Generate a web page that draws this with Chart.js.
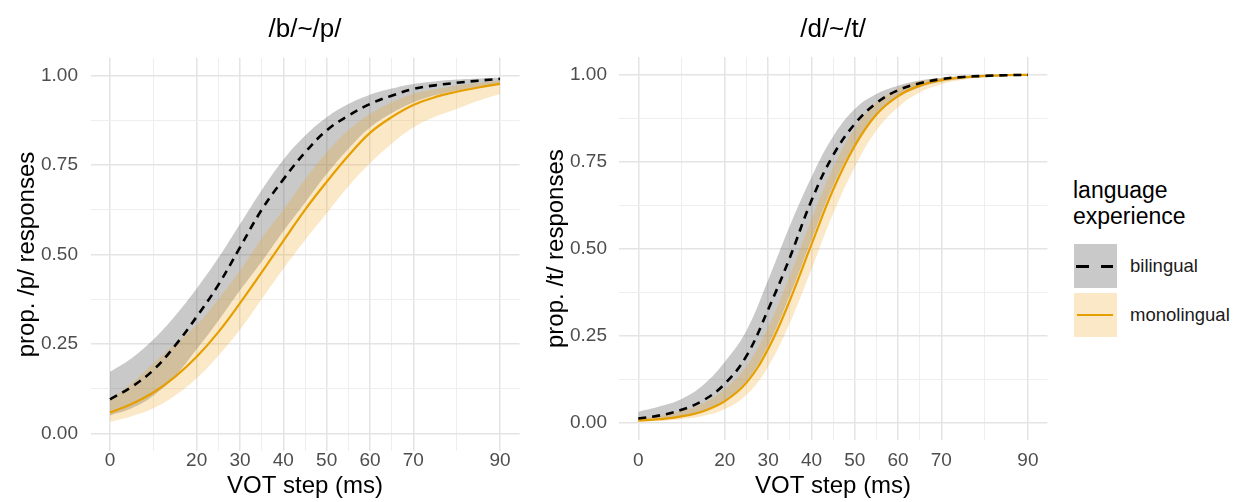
<!DOCTYPE html>
<html><head><meta charset="utf-8">
<script src="https://cdn.jsdelivr.net/npm/chart.js@4.4.1/dist/chart.umd.min.js"></script>
<style>
html,body{margin:0;padding:0;background:#fff;}
#wrap{position:relative;width:1238px;height:502px;overflow:hidden;font-family:"Liberation Sans",Arial,sans-serif;}
canvas{position:absolute;top:0;}
#c1{left:0;}
#c2{left:530px;}
.abs{position:absolute;}
.legTitle{left:1073px;top:177px;font-size:23px;line-height:26px;color:#000;white-space:nowrap;}
.key{width:43px;height:44px;}
.lab{font-size:18.5px;line-height:22px;color:#1a1a1a;white-space:nowrap;}
</style></head>
<body><div id="wrap">
<canvas id="c1" width="530" height="502"></canvas>
<canvas id="c2" width="520" height="502"></canvas>
<div class="abs legTitle">language<br>experience</div>
<div class="abs key" style="left:1074px;top:244px;background:rgba(90,90,90,0.33)"></div>
<div class="abs" style="left:1076px;top:264.5px;width:13px;height:3px;background:#000"></div>
<div class="abs" style="left:1101px;top:264.5px;width:12px;height:3px;background:#000"></div>
<div class="abs lab" style="left:1130px;top:255px">bilingual</div>
<div class="abs key" style="left:1074px;top:293px;background:rgba(240,165,30,0.25)"></div>
<div class="abs" style="left:1077px;top:314px;width:36px;height:2.4px;background:#E69F00"></div>
<div class="abs lab" style="left:1130px;top:303.5px">monolingual</div>
</div>
<script>
// VOT steps (ms) at which the fitted curves were read
const vot = [0,5,10,15,20,25,30,35,40,45,50,55,60,65,70,75,80,85,90];

// /b/~/p/ panel
const bpBilingual      = [0.095,0.13,0.177,0.245,0.326,0.415,0.52,0.625,0.71,0.785,0.847,0.888,0.921,0.944,0.963,0.973,0.980,0.986,0.991];
const bpBilingualUpper = [0.172,0.21,0.262,0.328,0.405,0.49,0.585,0.68,0.765,0.832,0.884,0.921,0.947,0.964,0.977,0.984,0.989,0.992,0.995];
const bpBilingualLower = [0.05,0.07,0.105,0.16,0.235,0.315,0.40,0.48,0.565,0.645,0.725,0.795,0.855,0.895,0.925,0.945,0.958,0.968,0.975];
const bpMonolingual      = [0.058,0.082,0.114,0.158,0.214,0.283,0.364,0.45,0.538,0.625,0.703,0.776,0.84,0.884,0.918,0.94,0.955,0.967,0.977];
const bpMonolingualUpper = [0.095,0.14,0.195,0.25,0.303,0.375,0.455,0.545,0.625,0.71,0.785,0.848,0.893,0.926,0.949,0.962,0.972,0.98,0.986];
const bpMonolingualLower = [0.032,0.048,0.07,0.106,0.154,0.217,0.29,0.375,0.46,0.54,0.615,0.69,0.755,0.81,0.855,0.885,0.907,0.93,0.949];

// /d/~/t/ panel
const dtBilingual      = [0.012,0.021,0.037,0.064,0.112,0.192,0.325,0.474,0.638,0.768,0.858,0.918,0.955,0.975,0.987,0.993,0.996,0.998,0.999];
const dtBilingualUpper = [0.031,0.047,0.068,0.108,0.175,0.265,0.41,0.565,0.705,0.822,0.901,0.944,0.968,0.983,0.990,0.995,0.997,0.999,0.9995];
const dtBilingualLower = [0.0047,0.009,0.018,0.034,0.065,0.12,0.222,0.365,0.525,0.68,0.80,0.885,0.935,0.963,0.979,0.988,0.993,0.996,0.998];
const dtMonolingual      = [0.006,0.010,0.018,0.033,0.062,0.115,0.212,0.351,0.512,0.669,0.795,0.885,0.938,0.968,0.984,0.992,0.996,0.998,0.999];
const dtMonolingualUpper = [0.013,0.020,0.034,0.056,0.097,0.162,0.274,0.422,0.584,0.732,0.845,0.919,0.960,0.981,0.991,0.996,0.998,0.999,0.9995];
const dtMonolingualLower = [0.003,0.005,0.010,0.019,0.039,0.080,0.161,0.286,0.440,0.600,0.734,0.839,0.906,0.948,0.972,0.985,0.992,0.996,0.998];

// axis breaks and labels
const xBreaks = [0,20,30,40,50,60,70,90];
const xTickLabels = ['0','20','30','40','50','60','70','90'];
const xMinorBreaks = [10,25,35,45,55,65,80];
const yBreaks = [0,0.25,0.5,0.75,1];
const yTickLabels = ['0.00','0.25','0.50','0.75','1.00'];
const yMinorBreaks = [0.125,0.375,0.625,0.875];

const FONT = '"Liberation Sans", Arial, sans-serif';
Chart.defaults.font.family = FONT;
const GRAY_FILL = 'rgba(90,90,90,0.33)';
const ORANGE_FILL = 'rgba(240,165,30,0.25)';
const NONE = 'rgba(0,0,0,0)';

function gridColor(major){ return ctx => (ctx.tick && major.includes(ctx.tick.value)) ? '#e4e4e4' : '#ececec'; }
function gridWidth(major){ return ctx => (ctx.tick && major.includes(ctx.tick.value)) ? 1.5 : 0.9; }

function panel(id, title, yTitle, s, g){
  const pts = a => vot.map((x,i)=>({x:x, y:a[i]}));
  const base = {pointRadius:0, tension:0.4};
  return new Chart(document.getElementById(id), {
    type:'line',
    data:{datasets:[
      Object.assign({data:pts(s.biHi), fill:1, backgroundColor:GRAY_FILL, borderColor:NONE, borderWidth:1, order:40}, base),
      Object.assign({data:pts(s.biLo), fill:false, borderColor:NONE, borderWidth:1, order:39}, base),
      Object.assign({data:pts(s.moHi), fill:3, backgroundColor:ORANGE_FILL, borderColor:NONE, borderWidth:1, order:30}, base),
      Object.assign({data:pts(s.moLo), fill:false, borderColor:NONE, borderWidth:1, order:29}, base),
      Object.assign({data:pts(s.mo), fill:false, borderColor:'#E69F00', borderWidth:2.2, order:2}, base),
      Object.assign({data:pts(s.bi), fill:false, borderColor:'#000000', borderWidth:2.6, borderDash:[8,6], order:1}, base)
    ]},
    options:{
      responsive:false, maintainAspectRatio:false, animation:false,
      layout:{padding:{left:0, right:g.padRight, top:0, bottom:0}},
      plugins:{legend:{display:false}, tooltip:{enabled:false}, title:{display:false}},
      scales:{
        x:{type:'linear', position:'bottom', min:-4.5, max:94.5,
          afterBuildTicks: sc => { sc.ticks = xBreaks.concat(xMinorBreaks).sort((a,b)=>a-b).map(v=>({value:v})); },
          afterFit: sc => { sc.height = g.xH; },
          grid:{drawTicks:false, color:gridColor(xBreaks), lineWidth:gridWidth(xBreaks)},
          border:{display:false},
          ticks:{autoSkip:false, maxRotation:0, minRotation:0, padding:g.xTickPad, color:'#4d4d4d',
            font:{size:19, lineHeight:1},
            callback: v => { const i = xBreaks.indexOf(v); return i >= 0 ? xTickLabels[i] : ''; }},
          title:{display:true, text:'VOT step (ms)', color:'#000', font:{size:24, lineHeight:1.2}, padding:{top:0, bottom:1.1}}
        },
        xTop:{type:'linear', axis:'x', position:'top', display:true, min:-4.5, max:94.5,
          afterFit: sc => { sc.height = g.top; },
          grid:{display:false}, border:{display:false}, ticks:{display:false},
          title:{display:true, text:title, color:'#000', font:{size:26, lineHeight:1.2}, padding:{top:14.4, bottom:0}}
        },
        y:{type:'linear', position:'left', min:-0.05, max:1.05,
          afterBuildTicks: sc => { sc.ticks = yBreaks.concat(yMinorBreaks).sort((a,b)=>a-b).map(v=>({value:v})); },
          afterFit: sc => { sc.width = g.yW; },
          grid:{drawTicks:false, color:gridColor(yBreaks), lineWidth:gridWidth(yBreaks)},
          border:{display:false},
          ticks:{autoSkip:false, padding:g.yTickPad, color:'#4d4d4d', font:{size:19, lineHeight:1},
            callback: v => { const i = yBreaks.indexOf(v); return i >= 0 ? yTickLabels[i] : ''; }},
          title:{display:true, text:yTitle, color:'#000', font:{size:24, lineHeight:1.2}, padding:{top:g.yTitlePad, bottom:0}}
        }
      }
    }
  });
}

panel('c1', '/b/~/p/', 'prop. /p/ responses',
  {bi:bpBilingual, biLo:bpBilingualLower, biHi:bpBilingualUpper, mo:bpMonolingual, moLo:bpMonolingualLower, moHi:bpMonolingualUpper},
  {padRight:10.5, xH:50.8, top:57.8, yW:90.5, xTickPad:0.3, yTickPad:12.5, yTitlePad:13.1});
panel('c2', '/d/~/t/', 'prop. /t/ responses',
  {bi:dtBilingual, biLo:dtBilingualLower, biHi:dtBilingualUpper, mo:dtMonolingual, moLo:dtMonolingualLower, moHi:dtMonolingualUpper},
  {padRight:2.2, xH:61.9, top:57.1, yW:88.8, xTickPad:11.4, yTickPad:11.8, yTitlePad:11.6});
</script>
</body></html>
